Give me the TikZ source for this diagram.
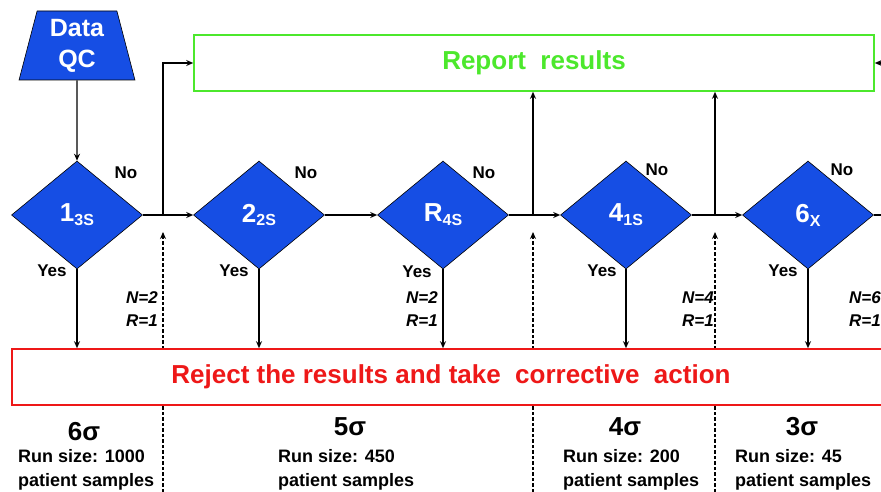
\documentclass[tikz,border=0pt]{standalone}
\usepackage{fontspec}
\setmainfont{Liberation Sans}
\usetikzlibrary{shapes.geometric,arrows.meta}
\definecolor{qcblue}{RGB}{22,78,228}
\definecolor{okgreen}{RGB}{76,232,44}
\definecolor{rejred}{RGB}{238,24,24}
% lowered subscript for the rule names
\newcommand\rulesub[1]{\raisebox{-4pt}{\fontsize{16}{16}\selectfont #1}}
\begin{document}
\begin{tikzpicture}[x=1pt,y=-1pt,
  >={Stealth[length=7pt,width=6pt]},
  flow/.style={draw=black,line width=1.4pt},
  probe/.style={draw=black,line width=1.2pt,dash pattern=on 3.5pt off 2pt},
  gate/.style={shape=diamond,fill=qcblue,draw=black,line width=0.6pt,
    minimum width=131pt,minimum height=108pt,inner sep=0pt,aspect=1.2,
    text=white,font=\fontsize{26}{26}\selectfont\bfseries},
  lbl/.style={inner sep=0pt,font=\fontsize{17}{17}\selectfont\bfseries},
  nr/.style={inner sep=0pt,font=\fontsize{17}{23}\selectfont\bfseries\itshape},
  sig/.style={inner sep=0pt,font=\fontsize{26}{26}\selectfont\bfseries},
  run/.style={inner sep=0pt,anchor=west,align=left,font=\fontsize{18}{24}\selectfont\bfseries},
]
\clip (0,0) rectangle (881,492);

% data QC start block
\node[shape=trapezium,trapezium left angle=77,trapezium right angle=77,
  trapezium stretches=true,minimum width=116pt,minimum height=69pt,inner sep=0pt,
  fill=qcblue,draw=black,line width=0.6pt,text=white,align=center,
  font=\fontsize{25}{31}\selectfont\bfseries] (qc) at (77,45.5) {Data\\QC};

% report box
\node[draw=okgreen,line width=1.6pt,minimum width=680pt,minimum height=56pt,inner sep=0pt,
  text=okgreen,font=\fontsize{26}{26}\selectfont\bfseries] (report) at (534,63) {Report\ \ results};

% run-size probes (dashed, behind the reject box)
\coordinate (b1) at (163,492); \coordinate (t1) at (163,232);
\coordinate (b2) at (533,492); \coordinate (t2) at (533,232);
\coordinate (b3) at (715,492); \coordinate (t3) at (715,232);
\draw[probe,->] (b1) -- (t1);
\draw[probe,->] (b2) -- (t2);
\draw[probe,->] (b3) -- (t3);

% reject box
\node[draw=rejred,fill=white,line width=1.6pt,minimum width=878pt,minimum height=56pt,inner sep=0pt,
  text=rejred,font=\fontsize{26}{26}\selectfont\bfseries] (reject) at (451,377)
  {Reject the results and take\ \ corrective\ \ action};

% Westgard rules
\node[gate] (d1) at (77,215) {1\rulesub{3S}};
\node[gate] (d2) at (259,215) {2\rulesub{2S}};
\node[gate] (d3) at (443,215) {R\rulesub{4S}};
\node[gate] (d4) at (626,215) {4\rulesub{1S}};
\node[gate] (d5) at (808,215) {6\rulesub{X}};

% junctions on the "No" path
\coordinate (j1) at (163,215);
\coordinate (j2) at (533,215);
\coordinate (j3) at (715,215);
\coordinate (exit) at (895,215);
\coordinate (feed) at (895,63);

\draw[flow,->] (qc.south) -- (d1.north);
\draw[flow,->] (d1.east) -- (d2.west);
\draw[flow,->] (d2.east) -- (d3.west);
\draw[flow,->] (d3.east) -- (d4.west);
\draw[flow,->] (d4.east) -- (d5.west);
\draw[flow] (d5.east) -- (exit);
\draw[flow,->] (j1) |- (report.west);
\draw[flow,->] (j2) -- (j2 |- report.south);
\draw[flow,->] (j3) -- (j3 |- report.south);
\draw[flow,->] (feed) -- (report.east);
\foreach \d in {d1,d2,d3,d4,d5}
  \draw[flow,->] (\d.south) -- (\d.south |- reject.north);

% branch labels
\node[lbl] (no1) at (126,173) {No};
\node[lbl] (no2) at (306,173) {No};
\node[lbl] (no3) at (484,173) {No};
\node[lbl] (no4) at (657,170) {No};
\node[lbl] (no5) at (842,170) {No};
\node[lbl] (yes1) at (52,271) {Yes};
\node[lbl] (yes2) at (234,271) {Yes};
\node[lbl] (yes3) at (417,272) {Yes};
\node[lbl] (yes4) at (602,271) {Yes};
\node[lbl] (yes5) at (783,271) {Yes};

% N / R settings
\node[nr,anchor=east,align=right] (nr1) at (158,309) {N=2\\R=1};
\node[nr,anchor=east,align=right] (nr2) at (438,309) {N=2\\R=1};
\node[nr,anchor=east,align=right] (nr3) at (714,309) {N=4\\R=1};
\node[nr,anchor=west,align=left] (nr4) at (849,309) {N=6\\R=1};

% sigma levels and run sizes
\node[sig] (s6) at (84,432) {6σ};
\node[sig] (s5) at (350,427) {5σ};
\node[sig] (s4) at (625,427) {4σ};
\node[sig] (s3) at (802,427) {3σ};
\node[run] (r6) at (18,470) {Run size: 1000\\patient samples};
\node[run] (r5) at (278,470) {Run size: 450\\patient samples};
\node[run] (r4) at (563,470) {Run size: 200\\patient samples};
\node[run] (r3) at (735,470) {Run size: 45\\patient samples};
\end{tikzpicture}
\end{document}
